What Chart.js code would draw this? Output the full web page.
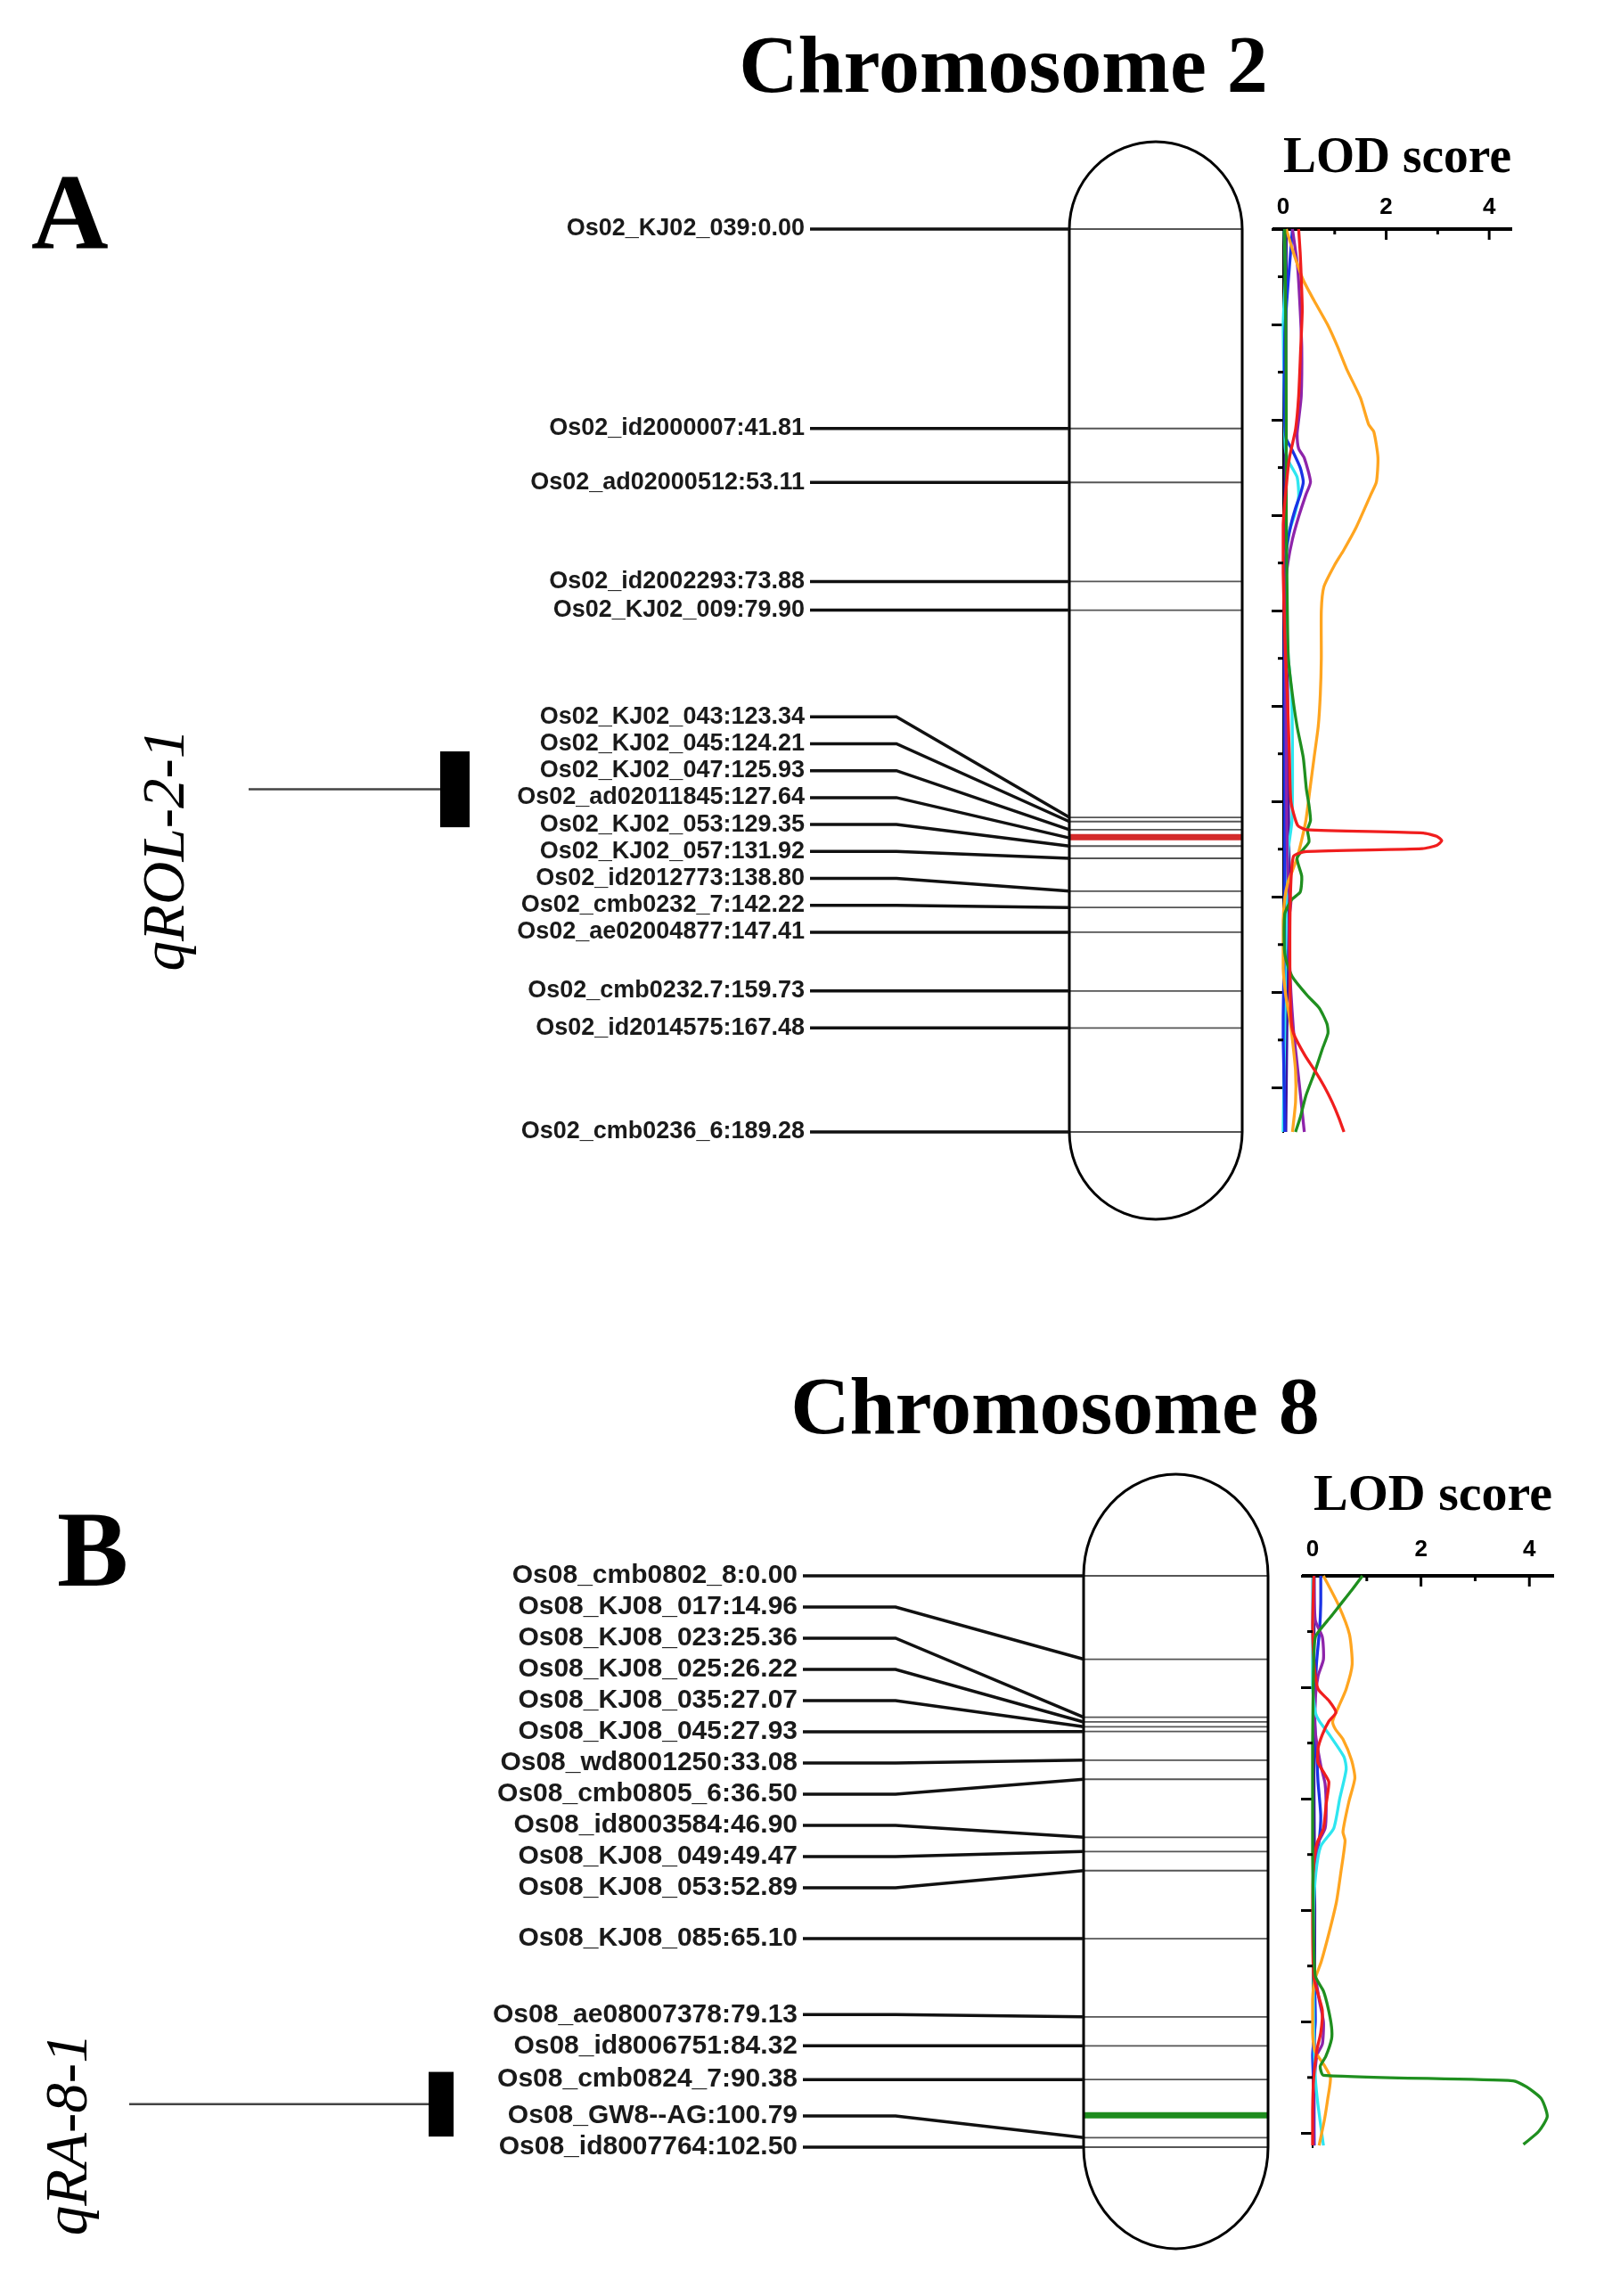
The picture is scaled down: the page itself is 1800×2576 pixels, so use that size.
<!DOCTYPE html>
<html lang="en">
<head>
  <meta charset="UTF-8" />
  <title>QTL map - chromosome 2 and 8</title>
  <script src="https://cdn.jsdelivr.net/npm/chart.js"></script>
  <style>
    body { margin: 0; background: #fff; }
    #wrap { position: relative; width: 1800px; height: 2576px; }
    canvas { position: absolute; left: 0; }
    #chartA { top: 0; }
    #chartB { top: 1440px; }
  </style>
</head>
<body>
<div id="wrap">
  <canvas id="chartA" width="1800" height="1440"></canvas>
  <canvas id="chartB" width="1800" height="1136"></canvas>
</div>

<script>
  // markers (name, position in cM)
  const chr2Markers = ['Os02_KJ02_039', 'Os02_id2000007', 'Os02_ad02000512', 'Os02_id2002293', 'Os02_KJ02_009',
    'Os02_KJ02_043', 'Os02_KJ02_045', 'Os02_KJ02_047', 'Os02_ad02011845', 'Os02_KJ02_053', 'Os02_KJ02_057',
    'Os02_id2012773', 'Os02_cmb0232_7', 'Os02_ae02004877', 'Os02_cmb0232.7', 'Os02_id2014575', 'Os02_cmb0236_6'];
  const chr2Pos = [0.00, 41.81, 53.11, 73.88, 79.90, 123.34, 124.21, 125.93, 127.64, 129.35, 131.92,
    138.80, 142.22, 147.41, 159.73, 167.48, 189.28];

  const chr8Markers = ['Os08_cmb0802_8', 'Os08_KJ08_017', 'Os08_KJ08_023', 'Os08_KJ08_025', 'Os08_KJ08_035',
    'Os08_KJ08_045', 'Os08_wd8001250', 'Os08_cmb0805_6', 'Os08_id8003584', 'Os08_KJ08_049', 'Os08_KJ08_053',
    'Os08_KJ08_085', 'Os08_ae08007378', 'Os08_id8006751', 'Os08_cmb0824_7', 'Os08_GW8--AG', 'Os08_id8007764'];
  const chr8Pos = [0.00, 14.96, 25.36, 26.22, 27.07, 27.93, 33.08, 36.50, 46.90, 49.47, 52.89,
    65.10, 79.13, 84.32, 90.38, 100.79, 102.50];

  // QTL: name, peak (cM), interval (cM)
  const qtlNames = ['qROL-2-1', 'qRA-8-1'];
  const qtlPeak = [127.5, 96.8];
  const qtlFrom = [109.5, 89.0];
  const qtlTo = [125.4, 100.6];

  // LOD profiles, [cM, LOD]
  const chr2Red = [[0,0.30],[5,0.33],[10,0.35],[17,0.37],[25,0.34],[35,0.30],[42,0.24],[48,0.12],[55,0.05],[62,0.0],[72,0.0],[85,0.03],[97.7,0.08],[110,0.12],[120,0.15],[125,0.28],[125.9,0.45],[126.6,2.72],[127.3,2.98],[128.2,3.08],[129.2,2.98],[129.9,2.7],[130.5,0.45],[131.5,0.2],[140,0.14],[155,0.13],[165,0.15],[168.6,0.2],[173.2,0.42],[176.5,0.62],[179.8,0.8],[183,0.95],[186.3,1.08],[189.28,1.18]];
  const chr2Orange = [[0,0.06],[5,0.2],[10.7,0.39],[15,0.6],[20,0.86],[24.5,1.05],[29.3,1.23],[35.4,1.5],[41,1.66],[42.5,1.76],[47.9,1.84],[53,1.81],[55.7,1.70],[62.7,1.41],[67.4,1.17],[70.4,1.0],[75,0.79],[80,0.74],[90,0.74],[97.7,0.72],[104.3,0.68],[110.8,0.60],[117.4,0.52],[124,0.44],[128,0.36],[131.8,0.27],[134.5,0.18],[137,0.09],[140.4,0.03],[145,0.0],[155,0.0],[160.7,0.05],[165,0.12],[170,0.18],[176.5,0.24],[183,0.24],[189.28,0.18]];
  const chr2Green = [[0,0.03],[20,0.05],[40,0.06],[60,0.06],[80,0.08],[90,0.1],[97.7,0.18],[104.3,0.27],[110.8,0.39],[117.4,0.45],[120.7,0.5],[124,0.53],[125.9,0.47],[128.5,0.5],[131.8,0.27],[135.7,0.36],[139,0.33],[140.4,0.18],[142,0.09],[143.6,0.03],[150,0.02],[153,0.05],[156.8,0.18],[160.7,0.47],[163.3,0.7],[166.6,0.85],[168.6,0.87],[171.9,0.76],[176.5,0.62],[181.7,0.44],[186.3,0.33],[189.28,0.24]];
  const chr2Purple = [[0,0.18],[8,0.28],[17,0.33],[25,0.36],[35,0.35],[40,0.3],[43,0.27],[46,0.3],[48,0.41],[53,0.53],[55.7,0.44],[60.3,0.3],[65,0.18],[70,0.09],[75,0.04],[85,0.03],[97,0.05],[110,0.06],[125,0.07],[138,0.1],[141,0.15],[144,0.12],[152,0.12],[160,0.15],[168,0.2],[173,0.25],[180,0.32],[189.28,0.41]];
  const chr2Blue = [[0,0.18],[8,0.12],[15,0.07],[22,0.03],[40,0.03],[44,0.06],[46,0.16],[50,0.33],[53,0.39],[55.7,0.33],[58.5,0.24],[62,0.15],[66,0.08],[71,0.03],[90,0.02],[120,0.03],[150,0.02],[165,0.0],[170,0.0],[180,0.02],[189.28,0.03]];
  const chr2Cyan = [[0,0.02],[10,0.04],[20,0.0],[35,0.02],[46,0.04],[49,0.12],[52,0.27],[56,0.3],[60,0.22],[64,0.1],[70,0.04],[80,0.06],[90,0.1],[97,0.16],[110,0.18],[124,0.17],[130,0.1],[140,0.06],[160,0.04],[175,0.02],[189.28,0.0]];
  const chr2Indigo = [[0,0.06],[30,0.05],[60,0.03],[90,0.08],[120,0.1],[140,0.12],[160,0.08],[189.28,0.05]];

  const chr8Red = [[0,0.02],[9,0.0],[16,0.03],[20.3,0.1],[22.4,0.3],[24.5,0.43],[26.1,0.3],[28.5,0.18],[31,0.1],[33.5,0.1],[35.5,0.22],[37,0.3],[41,0.25],[45.3,0.2],[48,0.08],[52,0.02],[60,0.0],[72,0.02],[75,0.1],[78,0.18],[82,0.15],[85,0.08],[90,0.02],[96,0.0],[102.2,0.0]];
  const chr8Orange = [[0,0.2],[5.3,0.48],[10.5,0.68],[15.9,0.73],[20.3,0.62],[23.5,0.48],[26.1,0.37],[27.5,0.42],[29.3,0.56],[33.1,0.72],[36.3,0.78],[40.5,0.67],[45.9,0.56],[47.5,0.6],[53.3,0.52],[58.5,0.44],[63.8,0.31],[69.2,0.16],[72.5,0.04],[76,0.0],[82,0.0],[85.2,0.04],[87.9,0.22],[90,0.33],[93.8,0.28],[97.5,0.22],[102.2,0.12]];
  const chr8Green = [[0,0.92],[2.6,0.72],[5.3,0.5],[7.4,0.33],[9.5,0.15],[11,0.05],[15,0.02],[30,0.0],[50,0.0],[65,0.02],[71.8,0.05],[74.5,0.2],[77.7,0.29],[81,0.35],[83.1,0.35],[86.3,0.24],[88,0.14],[89.6,0.2],[90.6,3.7],[91.7,3.95],[93.8,4.22],[97.0,4.33],[99.7,4.17],[102.0,3.89]];
  const chr8Purple = [[0,0.02],[8,0.05],[11,0.18],[15,0.2],[18,0.1],[22,0.05],[28,0.05],[34,0.15],[37.3,0.23],[42,0.25],[45.3,0.23],[48,0.1],[53,0.02],[70,0.03],[76,0.12],[80,0.2],[84,0.18],[86,0.08],[92,0.02],[102.2,0.02]];
  const chr8Blue = [[0,0.15],[5,0.15],[9.5,0.13],[16,0.07],[26,0.04],[33,0.08],[37,0.1],[43,0.15],[47.5,0.12],[53,0.02],[60,0.02],[70,0.03],[80,0.05],[86,0.0],[92,0.02],[102.2,0.03]];
  const chr8Cyan = [[0,0.0],[20,0.0],[24.5,0.05],[26,0.12],[28.8,0.33],[32.5,0.58],[34.7,0.62],[40,0.5],[45.3,0.39],[48.5,0.15],[53.3,0.06],[60,0.02],[80,0.02],[90,0.05],[95,0.1],[102.2,0.2]];
  const chr8Indigo = [[0,0.03],[30,0.02],[60,0.04],[90,0.03],[102.2,0.02]];

  const COLORS = { red: '#f01e1e', orange: '#ffa520', green: '#1f8f1f', purple: '#8e24aa', blue: '#1a33e6', cyan: '#2ee6f0', indigo: '#3c14a0' };

  function seg(ctx, x1, y1, x2, y2) {
    ctx.beginPath(); ctx.moveTo(x1, y1); ctx.lineTo(x2, y2); ctx.stroke();
  }

  // push crowded labels apart (bottom-up, then top-down)
  function spread(ys, gap) {
    const out = ys.slice();
    for (let i = out.length - 2; i >= 0; i--) out[i] = Math.min(out[i], out[i + 1] - gap);
    out[0] = Math.max(out[0], ys[0]);
    for (let i = 1; i < out.length; i++) out[i] = Math.max(out[i], out[i - 1] + gap);
    return out;
  }

  const mapPlugin = {
    id: 'chromMap',
    afterDraw(chart, args, o) {
      const ctx = chart.ctx;
      const xs = chart.scales.x, ys = chart.scales.y;
      const yTop = ys.getPixelForValue(0);
      ctx.save();

      // panel letter + title
      ctx.fillStyle = '#000';
      ctx.textBaseline = 'alphabetic';
      ctx.textAlign = 'left';
      ctx.font = 'bold 120px "Liberation Serif", serif';
      ctx.fillText(o.letter, o.letterX, o.letterY);
      ctx.textAlign = 'center';
      ctx.font = 'bold 92px "Liberation Serif", serif';
      ctx.fillText(o.title, o.titleX, o.titleY);

      // LOD axis: left stub, inward ticks, minor cM ticks
      ctx.strokeStyle = '#000';
      ctx.lineWidth = 4;
      seg(ctx, xs.left - 12, yTop, xs.left, yTop);
      ctx.lineWidth = 3;
      for (let v = 1; v <= 4; v++) {
        const px = xs.getPixelForValue(v);
        seg(ctx, px, yTop, px, yTop + (v % 2 ? 6 : 12));
      }
      for (let c = 10; c < ys.max; c += 20) {
        const py = ys.getPixelForValue(c);
        seg(ctx, xs.left - 6, py, xs.left, py);
      }

      // chromosome body
      const L = o.chromLeft, R = o.chromRight, cx = (L + R) / 2, rx = (R - L) / 2;
      const yBot = ys.getPixelForValue(o.pos[o.pos.length - 1]);
      const trueY = o.pos.map(c => ys.getPixelForValue(c));
      ctx.strokeStyle = '#555';
      ctx.lineWidth = 1.8;
      trueY.forEach(py => seg(ctx, L, py, R, py));
      ctx.strokeStyle = o.peakColor;
      ctx.lineWidth = 7;
      const pk = ys.getPixelForValue(o.peak);
      seg(ctx, L, pk, R, pk);

      ctx.strokeStyle = '#000';
      ctx.lineWidth = 3;
      ctx.beginPath();
      ctx.moveTo(L, yTop);
      ctx.lineTo(L, yBot);
      ctx.ellipse(cx, yBot, rx, o.capY, 0, Math.PI, 0, true);
      ctx.lineTo(R, yTop);
      ctx.ellipse(cx, yTop, rx, o.capY, 0, 0, Math.PI, true);
      ctx.closePath();
      ctx.stroke();

      // marker labels + connectors
      const labY = spread(trueY, o.gap);
      ctx.fillStyle = '#1a1a1a';
      ctx.font = `bold ${o.fontSize}px "Liberation Sans", Arial, sans-serif`;
      ctx.textAlign = 'right';
      ctx.textBaseline = 'middle';
      o.names.forEach((n, i) => ctx.fillText(n + ':' + o.pos[i].toFixed(2), o.labelRight, labY[i]));
      ctx.strokeStyle = '#111';
      ctx.lineWidth = 3.5;
      trueY.forEach((ty, i) => {
        ctx.beginPath();
        ctx.moveTo(o.labelRight + 6, labY[i]);
        ctx.lineTo(o.bendX, labY[i]);
        ctx.lineTo(L, ty);
        ctx.stroke();
      });

      // QTL bar, whisker and name
      const q0 = ys.getPixelForValue(o.qFrom), q1 = ys.getPixelForValue(o.qTo);
      const qm = (q0 + q1) / 2;
      ctx.fillStyle = '#000';
      ctx.fillRect(o.barLeft, q0, o.barWidth, q1 - q0);
      ctx.strokeStyle = '#444';
      ctx.lineWidth = 2.5;
      seg(ctx, o.whiskerLeft, qm, o.barLeft, qm);
      ctx.translate(o.nameX, qm + o.nameDy);
      ctx.rotate(-Math.PI / 2);
      ctx.font = 'italic 67px "Liberation Serif", serif';
      ctx.textAlign = 'center';
      ctx.textBaseline = 'alphabetic';
      ctx.fillText(o.qtlName, 0, 0);
      ctx.restore();
    }
  };

  function curveSets(curves) {
    return curves.map(([pts, color]) => ({
      data: pts.map(p => ({ x: p[1], y: p[0] })),
      showLine: true,
      borderColor: color,
      borderWidth: 3.3,
      pointRadius: 0,
      tension: 0.2,
      fill: false,
      clip: 10,
    }));
  }

  function lodAxis(max, h, pad) {
    return {
      type: 'linear', position: 'top', min: 0, max,
      ticks: { stepSize: 2, includeBounds: false, padding: pad, color: '#000',
        font: { family: '"Liberation Sans", Arial, sans-serif', size: 26, weight: 'bold' } },
      grid: { drawOnChartArea: false, drawTicks: false },
      border: { display: true, color: '#000', width: 4 },
      title: { display: true, text: 'LOD score', color: '#000', padding: 0,
        font: { family: '"Liberation Serif", serif', size: 58, weight: 'bold' } },
      afterFit: s => { s.height = h; },
    };
  }

  function cmAxis(max) {
    return {
      type: 'linear', position: 'left', reverse: true, min: 0, max,
      ticks: { display: false, stepSize: 20, includeBounds: false },
      grid: { drawOnChartArea: false, drawTicks: true, tickLength: 13, tickWidth: 3, tickColor: '#000' },
      border: { display: true, color: '#000', width: 2 },
      afterFit: s => { s.width = 13; },
    };
  }

  // Panel A - chromosome 2
  new Chart(document.getElementById('chartA'), {
    type: 'scatter',
    data: { datasets: curveSets([[chr2Red, COLORS.red], [chr2Green, COLORS.green], [chr2Orange, COLORS.orange],
      [chr2Purple, COLORS.purple], [chr2Blue, COLORS.blue], [chr2Cyan, COLORS.cyan], [chr2Indigo, COLORS.indigo]]) },
    options: {
      responsive: false,
      animation: false,
      layout: { padding: { top: 143, left: 1427, right: 104, bottom: 170 } },
      scales: { x: lodAxis(4.43, 114, 9), y: cmAxis(chr2Pos[chr2Pos.length - 1]) },
      plugins: {
        legend: { display: false },
        tooltip: { enabled: false },
        chromMap: {
          letter: 'A', letterX: 35, letterY: 278,
          title: 'Chromosome 2', titleX: 1126, titleY: 103,
          names: chr2Markers, pos: chr2Pos, gap: 30.2, fontSize: 27,
          labelRight: 903, bendX: 1006, chromLeft: 1200, chromRight: 1394, capY: 98,
          peak: qtlPeak[0], peakColor: '#d42a2a',
          qtlName: qtlNames[0], qFrom: qtlFrom[0], qTo: qtlTo[0],
          barLeft: 494, barWidth: 33, whiskerLeft: 279, nameX: 206, nameDy: 68,
        },
      },
    },
    plugins: [mapPlugin],
  });

  // Panel B - chromosome 8
  new Chart(document.getElementById('chartB'), {
    type: 'scatter',
    data: { datasets: curveSets([[chr8Green, COLORS.green], [chr8Red, COLORS.red], [chr8Orange, COLORS.orange],
      [chr8Cyan, COLORS.cyan], [chr8Purple, COLORS.purple], [chr8Blue, COLORS.blue], [chr8Indigo, COLORS.indigo]]) },
    options: {
      responsive: false,
      animation: false,
      layout: { padding: { top: 204, left: 1460, right: 57, bottom: 167 } },
      scales: { x: lodAxis(4.44, 124, 14), y: cmAxis(chr8Pos[chr8Pos.length - 1]) },
      plugins: {
        legend: { display: false },
        tooltip: { enabled: false },
        chromMap: {
          letter: 'B', letterX: 64, letterY: 339,
          title: 'Chromosome 8', titleX: 1184, titleY: 168,
          names: chr8Markers, pos: chr8Pos, gap: 35, fontSize: 30,
          labelRight: 895, bendX: 1005, chromLeft: 1216, chromRight: 1423, capY: 114,
          peak: qtlPeak[1], peakColor: '#1e8c1e',
          qtlName: qtlNames[1], qFrom: qtlFrom[1], qTo: qtlTo[1],
          barLeft: 481, barWidth: 28, whiskerLeft: 145, nameX: 97, nameDy: 34,
        },
      },
    },
    plugins: [mapPlugin],
  });
</script>
</body>
</html>
